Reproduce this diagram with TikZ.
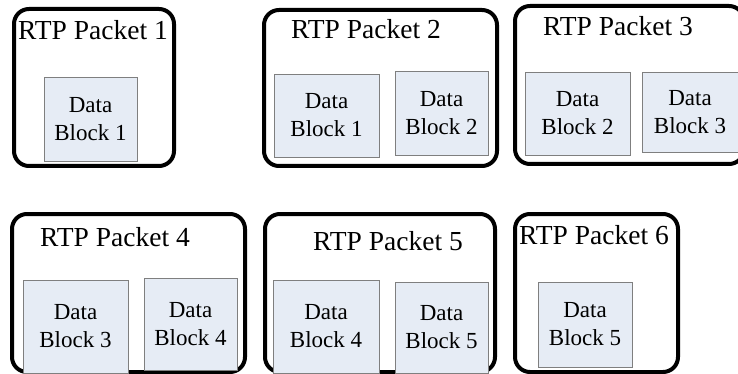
\documentclass[tikz,border=0pt]{standalone}
\usepackage{fontspec}
\setmainfont{Liberation Serif}
\definecolor{blockfill}{HTML}{E6ECF5}
\definecolor{blockline}{HTML}{7F7F7F}
\tikzset{
  packet/.style={draw=black, line width=4pt, rounded corners=15pt, inner sep=0pt, fill=none},
  ptitle/.style={anchor=base, inner sep=0pt, font=\fontsize{27.5}{31}\selectfont},
  block/.style={draw=blockline, line width=0.8pt, fill=blockfill, inner sep=0pt, align=center,
    font=\fontsize{23}{28}\selectfont},
}
\newcommand{\pkt}[5]{% name, x1, y1, x2, y2
  \node[packet, minimum width={#4-#2}, minimum height={#5-#3}] (#1) at ({(#2+#4)/2},{(#3+#5)/2}) {};}
\newcommand{\blk}[6]{% name, x1, y1, x2, y2, text
  \node[block, minimum width={#4-#2}, minimum height={#5-#3}] (#1) at ({(#2+#4)/2},{(#3+#5)/2}) {#6};}
\begin{document}
\begin{tikzpicture}[x=1pt,y=-1pt]
\useasboundingbox (0,0) rectangle (738,374);
% packets
\pkt{p1}{14}{9}{174}{166}
\pkt{p2}{264}{10}{497}{166}
\pkt{p3}{515}{6}{744}{164}
\pkt{p4}{12}{214}{245}{372}
\pkt{p5}{265}{214}{495}{372}
\pkt{p6}{515}{214}{678}{372}
% titles
\node[ptitle] (t1) at (93,40) {RTP Packet 1};
\node[ptitle] (t2) at (366,39) {RTP Packet 2};
\node[ptitle] (t3) at (618,36) {RTP Packet 3};
\node[ptitle] (t4) at (115,246) {RTP Packet 4};
\node[ptitle] (t5) at (388,250) {RTP Packet 5};
\node[ptitle] (t6) at (594,244) {RTP Packet 6};
% data blocks
\blk{b11}{44}{77}{137}{161}{Data\\Block 1}
\blk{b21}{274}{74}{379}{157}{Data\\Block 1}
\blk{b22}{395}{71}{488}{155}{Data\\Block 2}
\blk{b32}{525}{72}{630}{155}{Data\\Block 2}
\blk{b33}{642}{72}{738}{152}{Data\\Block 3}
\blk{b43}{23}{280}{128}{373}{Data\\Block 3}
\blk{b44}{144}{278}{237}{370}{Data\\Block 4}
\blk{b54}{273}{280}{379}{373}{Data\\Block 4}
\blk{b55}{395}{282}{488}{373}{Data\\Block 5}
\blk{b65}{538}{282}{632}{367}{Data\\Block 5}
\end{tikzpicture}
\end{document}
